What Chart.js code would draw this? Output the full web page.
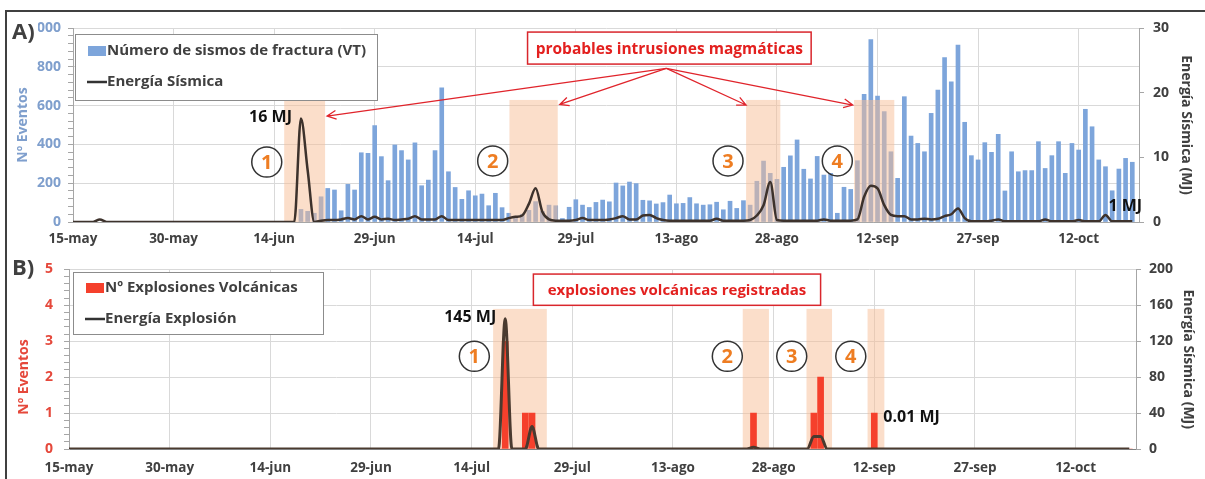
<!DOCTYPE html>
<html>
<head>
<meta charset="utf-8">
<script src="https://cdn.jsdelivr.net/npm/chart.js@4.4.1/dist/chart.umd.min.js"></script>
<style>
  html, body { margin: 0; padding: 0; background: #fff; }
  #wrap { position: relative; width: 1205px; height: 479px; overflow: hidden; }
  #wrap canvas { position: absolute; left: 0; }
  #cA { top: 0; }
  #cB { top: 250px; }
  #frame { position: absolute; left: 5px; top: 10px; width: 1220px; height: 490px;
           border-left: 2px solid #404040; border-top: 2px solid #404040; pointer-events: none; }
</style>
</head>
<body>
<div id="wrap">
  <canvas id="cA" width="1205" height="250"></canvas>
  <canvas id="cB" width="1205" height="229"></canvas>
  <div id="frame"></div>
</div>
<script>
// --- datos (dia 0 = 15-may, un valor por dia hasta el 20-oct) ---
const tickDays = [0, 15, 30, 45, 60, 75, 90, 105, 120, 135, 150];
const tickLabels = ['15-may', '30-may', '14-jun', '29-jun', '14-jul', '29-jul', '13-ago', '28-ago', '12-sep', '27-sep', '12-oct'];

// Nº de sismos VT por dia
const sismosVT = [
  null, null, null, null, null, null, null, null, null, null, null, null, null, null, null,
  null, null, null, null, null, null, null, null, null, null, null, null, null, null, null,
  null, null, null, null, 65, 55, 45, 130, 173, 165, 58, 194, 165, 357, 354,
  497, 337, 213, 397, 368, 320, 408, 187, 216, 368, 692, 259, 178, 117, 161,
  135, 144, 84, 148, 74, 45, 30, 40, 60, 105, 55, 87, 84, 18, 76,
  115, 87, 75, 101, 113, 104, 201, 186, 206, 198, 112, 109, 93, 100, 139,
  94, 96, 126, 94, 87, 89, 102, 63, 107, 70, 110, 87, 210, 314, 251,
  220, 282, 341, 423, 272, 222, 338, 242, 251, 45, 179, 168, 316, 658, 940,
  649, 569, 362, 225, 646, 443, 405, 362, 560, 680, 847, 723, 912, 514, 342,
  320, 409, 359, 452, 160, 362, 259, 265, 265, 414, 276, 342, 414, 251, 405,
  371, 581, 491, 320, 285, 161, 273, 328, 308
];

// Energia sismica diaria (MJ)
const energiaSismica = [
  0, 0, 0, 0, 0.4, 0, 0, 0, 0, 0, 0, 0, 0, 0, 0,
  0, 0, 0, 0, 0, 0, 0, 0, 0, 0, 0, 0, 0, 0, 0,
  0, 0, 0, 0, 16, 8, 0, 0.2, 0.3, 0.3, 0.4, 0.6, 0.4, 0.9, 0.4,
  0.8, 0.4, 0.5, 0.3, 0.4, 0.5, 0.9, 0.4, 0.4, 0.4, 0.9, 0.3, 0.3, 0.3, 0.3,
  0.3, 0.3, 0.3, 0.3, 0.3, 0.6, 0.8, 1.0, 2.8, 5.2, 1.6, 0.4, 0.2, 0.2, 0.2,
  0.3, 0.6, 0.3, 0.3, 0.3, 0.4, 0.6, 0.9, 0.4, 0.4, 1.0, 1.1, 0.6, 0.3, 0.2,
  0.2, 0.2, 0.2, 0.2, 0.2, 0.2, 0.5, 0.2, 0.2, 0.2, 0.2, 0.3, 1.0, 2.6, 6.2,
  0.3, 0.2, 0.2, 0.2, 0.2, 0.2, 0.2, 0.4, 0.2, 0.2, 0.2, 0.2, 0.4, 3.9, 5.6,
  5.2, 2.6, 1.1, 0.9, 0.9, 0.4, 0.4, 0.5, 0.4, 0.5, 0.9, 1.2, 2.1, 0.6, 0.1,
  0.1, 0.1, 0.2, 0.4, 0.1, 0.1, 0.1, 0.1, 0.1, 0.1, 0.4, 0.1, 0.1, 0.1, 0.1,
  0.3, 0.1, 0.1, 0.1, 1.1, 0.1, 0.1, 0.1, 0.1
];

// Nº de explosiones volcanicas por dia
const explosiones = [
  0, 0, 0, 0, 0, 0, 0, 0, 0, 0, 0, 0, 0, 0, 0,
  0, 0, 0, 0, 0, 0, 0, 0, 0, 0, 0, 0, 0, 0, 0,
  0, 0, 0, 0, 0, 0, 0, 0, 0, 0, 0, 0, 0, 0, 0,
  0, 0, 0, 0, 0, 0, 0, 0, 0, 0, 0, 0, 0, 0, 0,
  0, 0, 0, 0, 0, 3, 0, 0, 1, 1, 0, 0, 0, 0, 0,
  0, 0, 0, 0, 0, 0, 0, 0, 0, 0, 0, 0, 0, 0, 0,
  0, 0, 0, 0, 0, 0, 0, 0, 0, 0, 0, 0, 1, 0, 0,
  0, 0, 0, 0, 0, 0, 1, 2, 0, 0, 0, 0, 0, 0, 0,
  1, 0, 0, 0, 0, 0, 0, 0, 0, 0, 0, 0, 0, 0, 0,
  0, 0, 0, 0, 0, 0, 0, 0, 0, 0, 0, 0, 0, 0, 0,
  0, 0, 0, 0, 0, 0, 0, 0, 0
];

// Energia de las explosiones (MJ)
const energiaExplosion = [
  0, 0, 0, 0, 0, 0, 0, 0, 0, 0, 0, 0, 0, 0, 0,
  0, 0, 0, 0, 0, 0, 0, 0, 0, 0, 0, 0, 0, 0, 0,
  0, 0, 0, 0, 0, 0, 0, 0, 0, 0, 0, 0, 0, 0, 0,
  0, 0, 0, 0, 0, 0, 0, 0, 0, 0, 0, 0, 0, 0, 0,
  0, 0, 0, 0, 0, 145, 0, 0, 0, 25, 0, 0, 0, 0, 0,
  0, 0, 0, 0, 0, 0, 0, 0, 0, 0, 0, 0, 0, 0, 0,
  0, 0, 0, 0, 0, 0, 0, 0, 0, 0, 0, 0, 2, 0, 0,
  0, 0, 0, 0, 0, 0, 14, 14, 0, 0, 0, 0, 0, 0, 0,
  0.01, 0, 0, 0, 0, 0, 0, 0, 0, 0, 0, 0, 0, 0, 0,
  0, 0, 0, 0, 0, 0, 0, 0, 0, 0, 0, 0, 0, 0, 0,
  0, 0, 0, 0, 0, 0, 0, 0, 0
];

// periodos sombreados (dia inicio, dia fin)
const intrusiones = [[31.5, 37.6], [65.1, 72.3], [100.4, 105.5], [116.5, 122.5]];
const periodosExplosion = [[63.2, 71.2], [100.4, 104.3], [109.9, 113.7], [119.0, 121.5]];

const dias = sismosVT.map((_, i) => i);
const xy = arr => dias.map((d, i) => ({ x: d, y: arr[i] }));

const FONT = "'Open Sans', 'DejaVu Sans', sans-serif";
Chart.defaults.font.family = FONT;

function drawBands(chart, o) {
  const { ctx } = chart;
  const xs = chart.scales.x, ys = chart.scales[o.bandAxis];
  ctx.save();
  ctx.fillStyle = 'rgba(247, 190, 150, 0.5)';
  o.bands.forEach(b => {
    const x0 = xs.getPixelForValue(b[0]), x1 = xs.getPixelForValue(b[1]);
    const y0 = ys.getPixelForValue(o.bandTop), y1 = ys.getPixelForValue(0);
    ctx.fillRect(x0, y0, x1 - x0, y1 - y0);
  });
  ctx.restore();
}

const decor = {
  id: 'decor',
  beforeDatasetsDraw(chart, args, o) {
    if (o.bandsBehind) drawBands(chart, o);
  },
  beforeDatasetDraw(chart, args, o) {
    if (!o.bandsBehind && args.meta.type === 'line') drawBands(chart, o);
  },
  afterDraw(chart, args, o) {
    const { ctx } = chart;
    const xs = chart.scales.x;
    const P = (d, v, ax) => [xs.getPixelForValue(d), chart.scales[ax].getPixelForValue(v)];
    ctx.save();

    // flechas
    (o.arrows || []).forEach(a => {
      const [x0, y0] = P(a.from[0], a.from[1], a.axis);
      ctx.strokeStyle = '#e0242b';
      ctx.lineWidth = 1.3;
      a.to.forEach(t => {
        const [x1, y1] = P(t[0], t[1], a.axis);
        const ang = Math.atan2(y1 - y0, x1 - x0);
        ctx.beginPath();
        ctx.moveTo(x0, y0);
        ctx.lineTo(x1, y1);
        ctx.moveTo(x1 - 10 * Math.cos(ang - 0.45), y1 - 10 * Math.sin(ang - 0.45));
        ctx.lineTo(x1, y1);
        ctx.lineTo(x1 - 10 * Math.cos(ang + 0.45), y1 - 10 * Math.sin(ang + 0.45));
        ctx.stroke();
      });
    });

    // recuadro rojo
    if (o.box) {
      const b = o.box;
      const [x0, y0] = P(b.d0, b.top, b.axis);
      const [x1, y1] = P(b.d1, b.bottom, b.axis);
      ctx.fillStyle = '#fff';
      ctx.fillRect(x0, y0, x1 - x0, y1 - y0);
      ctx.strokeStyle = '#d9262c';
      ctx.lineWidth = 1.5;
      ctx.strokeRect(x0, y0, x1 - x0, y1 - y0);
      ctx.fillStyle = '#e3201f';
      ctx.font = `bold ${b.size}px ${FONT}`;
      ctx.textAlign = 'center';
      ctx.textBaseline = 'middle';
      ctx.fillText(b.text, (x0 + x1) / 2, (y0 + y1) / 2 + 1);
    }

    // circulos numerados
    (o.circles || []).forEach(c => {
      const [x, y] = P(c.d, c.v, c.axis);
      ctx.beginPath();
      ctx.arc(x, y, 15, 0, Math.PI * 2);
      ctx.strokeStyle = '#333';
      ctx.lineWidth = 1.5;
      ctx.stroke();
      ctx.fillStyle = '#ee7d22';
      ctx.font = `bold 20px ${FONT}`;
      ctx.textAlign = 'center';
      ctx.textBaseline = 'middle';
      ctx.fillText(c.n, x, y + 1);
    });

    // etiquetas de energia
    (o.labels || []).forEach(l => {
      const [x, y] = P(l.d, l.v, l.axis);
      ctx.fillStyle = '#111';
      ctx.font = `bold 16px ${FONT}`;
      ctx.textAlign = l.align;
      ctx.textBaseline = 'middle';
      ctx.fillText(l.text, x + l.dx, y + l.dy);
    });

    // leyenda
    if (o.legend) {
      const L = o.legend;
      ctx.fillStyle = '#fff';
      ctx.fillRect(L.x, L.y, L.w, L.h);
      ctx.strokeStyle = '#8c8c8c';
      ctx.lineWidth = 1;
      ctx.strokeRect(L.x + 0.5, L.y + 0.5, L.w, L.h);
      ctx.font = `bold 15px ${FONT}`;
      ctx.textAlign = 'left';
      ctx.textBaseline = 'middle';
      L.items.forEach(it => {
        if (it.kind === 'rect') {
          ctx.fillStyle = it.color;
          ctx.fillRect(L.x + 13, it.y - 5, 18, 10);
        } else {
          ctx.strokeStyle = it.color;
          ctx.lineWidth = 2.5;
          ctx.beginPath();
          ctx.moveTo(L.x + 12, it.y);
          ctx.lineTo(L.x + 32, it.y);
          ctx.stroke();
        }
        ctx.fillStyle = '#404040';
        ctx.fillText(it.text, L.x + 32, it.y);
      });
    }

    // titulo izquierdo manual
    if (o.leftTitle) {
      const t = o.leftTitle;
      ctx.save();
      ctx.translate(t.x, t.y);
      ctx.rotate(-Math.PI / 2);
      ctx.fillStyle = t.color;
      ctx.font = `bold 14px ${FONT}`;
      ctx.textAlign = 'center';
      ctx.textBaseline = 'middle';
      ctx.fillText(t.text, 0, 0);
      ctx.restore();
    }

    // letra del panel
    if (o.panel) {
      ctx.fillStyle = '#fff';
      ctx.fillRect(o.panel.x - 1, o.panel.y - 13, 27, 25);
      ctx.fillStyle = '#404040';
      ctx.font = `bold 22px ${FONT}`;
      ctx.textAlign = 'left';
      ctx.textBaseline = 'middle';
      ctx.fillText(o.panel.text, o.panel.x, o.panel.y);
    }
    ctx.restore();
  }
};

const xAxis = (h, pad, borderColor) => ({
  type: 'linear', min: 0, max: 159, offset: false,
  afterBuildTicks: s => { s.ticks = tickDays.map(v => ({ value: v })); },
  ticks: { callback: (v, i) => tickLabels[i], color: '#404040', font: { size: 13.5, weight: 'bold' },
           padding: pad, maxRotation: 0, autoSkip: false },
  grid: { color: '#d9d9d9', drawTicks: false, offset: false },
  border: { color: borderColor },
  afterFit: s => { s.height = h; }
});

// ---------- Panel A ----------
new Chart(document.getElementById('cA'), {
  type: 'bar',
  data: {
    datasets: [
      { type: 'bar', label: 'Número de sismos de fractura (VT)', data: xy(sismosVT),
        backgroundColor: '#7da5db', barThickness: 4, yAxisID: 'y', order: 2 },
      { type: 'line', label: 'Energía Sísmica', data: xy(energiaSismica),
        borderColor: '#3d322c', borderWidth: 2.5, pointRadius: 0,
        cubicInterpolationMode: 'monotone', yAxisID: 'y2', order: 1 }
    ]
  },
  options: {
    responsive: false, animation: false,
    layout: { padding: { top: 28, left: 0, right: 0, bottom: 0 } },
    plugins: {
      legend: { display: false }, tooltip: { enabled: false },
      decor: {
        bands: intrusiones, bandAxis: 'y', bandTop: 629, bandsBehind: false,
        arrows: [{ axis: 'y', from: [88.5, 792], to: [[37.9, 546], [72.6, 606], [100.4, 603], [116.3, 603]] }],
        box: { axis: 'y', d0: 67.8, d1: 110.1, top: 979, bottom: 814, size: 15.5, text: 'probables intrusiones magmáticas' },
        circles: [
          { n: '1', d: 28.9, v: 309, axis: 'y' }, { n: '2', d: 62.6, v: 315, axis: 'y' },
          { n: '3', d: 97.7, v: 315, axis: 'y' }, { n: '4', d: 114.0, v: 315, axis: 'y' }
        ],
        labels: [
          { text: '16 MJ', d: 34, v: 16, axis: 'y2', dx: -9, dy: -1, align: 'right' },
          { text: '1 MJ', d: 154, v: 1.1, axis: 'y2', dx: 3, dy: -8, align: 'left' }
        ],
        legend: { x: 75, y: 34, w: 302, h: 66, items: [
          { kind: 'rect', color: '#7da5db', text: 'Número de sismos de fractura (VT)', y: 51 },
          { kind: 'line', color: '#333', text: 'Energía Sísmica', y: 82 }
        ] },
        panel: { text: 'A)', x: 12, y: 33 }
      }
    },
    scales: {
      x: xAxis(28, 9, '#a6a6a6'),
      y: {
        position: 'left', min: 0, max: 1000,
        ticks: { stepSize: 40, autoSkip: false, callback: v => (v % 200 === 0 ? v : ''),
                 color: '#7f9fcd', font: { size: 14, weight: 'bold' }, padding: 7 },
        grid: { color: c => (c.tick && c.tick.value % 200 === 0 ? '#d9d9d9' : 'rgba(0,0,0,0)'),
                tickColor: '#a6a6a6', tickLength: 5 },
        border: { color: '#a6a6a6' },
        title: { display: true, text: 'Nº Eventos', color: '#7f9fcd', font: { size: 14, weight: 'bold' },
                 padding: { top: 15, bottom: 0 } },
        afterFit: s => { s.width = 73; }
      },
      y2: {
        position: 'right', min: 0, max: 30,
        ticks: { stepSize: 10, color: '#404040', font: { size: 14, weight: 'bold' }, padding: 9 },
        grid: { drawOnChartArea: false, tickColor: '#a6a6a6', tickLength: 5 },
        border: { color: '#a6a6a6' },
        title: { display: true, text: 'Energía Sísmica (MJ)', color: '#404040', font: { size: 14, weight: 'bold' },
                 padding: { top: 11, bottom: 0 } },
        afterFit: s => { s.width = 66; }
      }
    }
  },
  plugins: [decor]
});

// ---------- Panel B ----------
const isInt = v => Math.abs(v - Math.round(v)) < 1e-6;
new Chart(document.getElementById('cB'), {
  type: 'bar',
  data: {
    datasets: [
      { type: 'bar', label: 'Nº Explosiones Volcánicas', data: xy(explosiones),
        backgroundColor: '#f5402c', barThickness: 6, yAxisID: 'y', order: 2 },
      { type: 'line', label: 'Energía Explosión', data: xy(energiaExplosion),
        borderColor: '#4a3a2f', borderWidth: 3, pointRadius: 0,
        cubicInterpolationMode: 'monotone', yAxisID: 'y2', order: 1 }
    ]
  },
  options: {
    responsive: false, animation: false,
    layout: { padding: { top: 17, left: 0, right: 0, bottom: 0 } },
    plugins: {
      legend: { display: false }, tooltip: { enabled: false },
      decor: {
        bands: periodosExplosion, bandAxis: 'y', bandTop: 3.9, bandsBehind: true,
        box: { axis: 'y', d0: 69.2, d1: 112.0, top: 4.87, bottom: 4.0, size: 15, text: 'explosiones volcánicas registradas' },
        circles: [
          { n: '1', d: 60.4, v: 2.58, axis: 'y' }, { n: '2', d: 98.1, v: 2.58, axis: 'y' },
          { n: '3', d: 107.7, v: 2.58, axis: 'y' }, { n: '4', d: 116.5, v: 2.58, axis: 'y' }
        ],
        labels: [
          { text: '145 MJ', d: 65, v: 145, axis: 'y2', dx: -9, dy: -1, align: 'right' },
          { text: '0.01 MJ', d: 120, v: 1, axis: 'y', dx: 9, dy: 4, align: 'left' }
        ],
        legend: { x: 73, y: 22, w: 250, h: 62, items: [
          { kind: 'rect', color: '#f5402c', text: 'Nº Explosiones Volcánicas', y: 38 },
          { kind: 'line', color: '#333', text: 'Energía Explosión', y: 69 }
        ] },
        leftTitle: { text: 'Nº Eventos', x: 24, y: 127, color: '#e5483b' },
        panel: { text: 'B)', x: 12, y: 19 }
      }
    },
    scales: {
      x: xAxis(30, 11, '#808080'),
      y: {
        position: 'left', min: 0, max: 5,
        ticks: { stepSize: 0.2, autoSkip: false, callback: v => (isInt(v) ? Math.round(v) : ''),
                 color: '#e5483b', font: { size: 14, weight: 'bold' }, padding: 11 },
        grid: { color: c => (c.tick && isInt(c.tick.value) ? '#d9d9d9' : 'rgba(0,0,0,0)'),
                tickColor: '#a6a6a6', tickLength: 5 },
        border: { color: '#a6a6a6' },
        afterFit: s => { s.width = 69; }
      },
      y2: {
        position: 'right', min: 0, max: 200,
        ticks: { stepSize: 40, color: '#404040', font: { size: 14, weight: 'bold' }, padding: 8 },
        grid: { drawOnChartArea: false, tickColor: '#a6a6a6', tickLength: 5 },
        border: { color: '#a6a6a6' },
        title: { display: true, text: 'Energía Sísmica (MJ)', color: '#404040', font: { size: 14, weight: 'bold' },
                 padding: { top: 9, bottom: 0 } },
        afterFit: s => { s.width = 69; }
      }
    }
  },
  plugins: [decor]
});
</script>
</body>
</html>
